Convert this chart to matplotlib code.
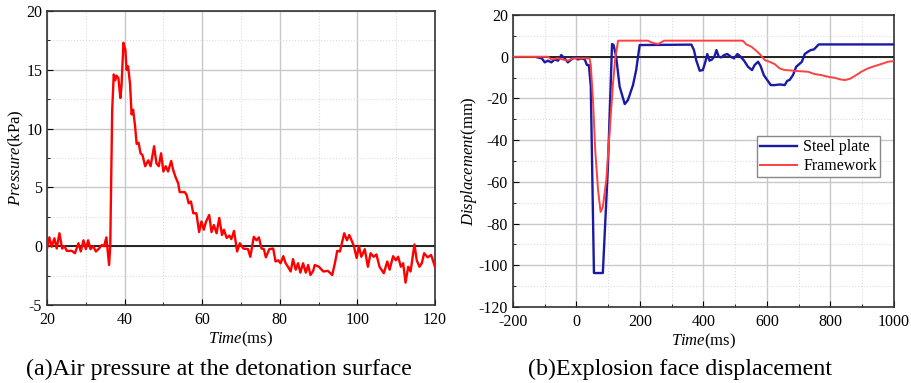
import numpy as np
import matplotlib
matplotlib.use("Agg")
import matplotlib.pyplot as plt
from matplotlib.ticker import MultipleLocator

plt.rcParams['font.family'] = ['Liberation Serif', 'DejaVu Serif']
plt.rcParams['mathtext.fontset'] = 'custom'
plt.rcParams['mathtext.rm'] = 'Liberation Serif'
plt.rcParams['mathtext.it'] = 'Liberation Serif:italic'
plt.rcParams['axes.unicode_minus'] = False

# (a) air pressure at the detonation surface
p_time = [20, 20.6, 21.2, 21.9, 22.5, 23.2, 23.9, 24.5, 25.1, 26.4, 27.2, 28.1, 28.7,
          29.4, 30, 30.6, 31.2, 31.9, 32.6, 33.4, 34.1, 34.7, 35.3, 36.0, 36.3, 36.8,
          37.2, 37.6, 37.9, 38.4, 38.9, 39.2, 39.7, 40.2, 40.5, 40.9, 41.4, 41.8, 42.2,
          42.7, 43.1, 43.6, 44.1, 44.6, 45.3, 46.1, 46.7, 47.6, 48.2, 48.8, 49.4, 50.0,
          50.6, 51.2, 52.0, 52.5, 53.1, 53.8, 54.2, 55.5, 56.0, 56.5, 57.1, 57.7, 58.5,
          59.2, 59.8, 60.4, 61.0, 61.8, 62.4, 63.0, 63.7, 64.4, 65.1, 65.6, 66.3, 67.0,
          67.5, 68.2, 69.0, 69.7, 70.6, 71.8, 72.4, 73.3, 74.0, 74.6, 75.3, 75.9, 76.4,
          77.3, 78.3, 78.9, 79.6, 80.2, 80.9, 81.5, 82.1, 82.8, 83.4, 84.1, 84.7, 85.3,
          86.0, 86.7, 87.3, 87.9, 88.6, 89.0, 90.1, 91.2, 92.4, 93.5, 94.2, 94.8, 95.5,
          95.9, 96.6, 97.3, 97.9, 98.5, 99.1, 99.8, 100.4, 101.0, 101.9, 102.7, 103.4,
          104.2, 104.9, 105.7, 106.8, 107.7, 108.3, 109.2, 109.9, 110.5, 111.2, 111.8,
          112.4, 113.1, 113.7, 114.7, 115.3, 116.0, 116.6, 117.2, 118.1, 119.0, 120]
pressure = [-0.2, 0.75, -0.04, 0.67, -0.2, 1.1, -0.2, 0, -0.4, -0.4, -0.6, 0.25, -0.45,
            0.5, -0.25, 0.5, -0.25, 0, -0.45, -0.2, 0.1, 0, 0.75, -1.6, 0, 11.6,
            14.6, 14.1, 14.5, 14.3, 12.6, 13.6, 17.3, 16.7, 15.0, 15.3, 13.8, 11.2, 11.6,
            10.2, 8.7, 8.8, 7.9, 7.75, 6.8, 7.3, 6.8, 8.5, 7.05, 6.8, 7.9, 6.35,
            6.8, 6.35, 7.25, 6.5, 5.9, 5.35, 4.6, 4.6, 4.35, 3.65, 3.8, 2.8, 2.8,
            1.2, 2.1, 1.4, 2.1, 2.65, 1.2, 1.8, 1.1, 2.4, 0.95, 1.4, 0.7, 0.9,
            0.6, 1.3, -0.45, 0.25, -0.2, -0.25, -0.9, 0.8, 0.5, 0.75, -0.2, -0.25, -0.95,
            -0.25, -0.2, -1.3, -1.2, -1.45, -0.85, -1.45, -1.75, -2.15, -1.1, -2.0, -1.45, -2.25,
            -1.45, -2.25, -1.6, -2.45, -2.1, -1.6, -1.75, -2.15, -2.1, -2.45, -1.45, -0.4, -0.45,
            0.1, 1.1, 0.5, 0.95, 0.5, 0, -1.0, 0, -0.9, -0.25, -1.75, -0.6,
            -0.9, -0.7, -1.75, -2.3, -1.3, -2.0, -0.85, -1.2, -0.9, -1.75, -1.45,
            -3.1, -1.75, -2.15, 0.15, -1.2, -1.75, -1.45, -0.6, -0.95, -0.75, -1.75]

# (b) explosion face displacement
steel_time = [-123, -109, -100, -90, -79, -69, -58, -48, -37, -27, -16, -6, 5, 15, 26,
              33, 39, 45, 55, 83, 99, 112, 117, 125, 136, 152, 162, 178, 188, 199,
              362, 370, 377, 388, 398, 406, 412, 419, 427, 435, 441, 448, 456, 465,
              475, 486, 496, 507, 517, 528, 540, 553, 561, 572, 580, 590, 601, 612,
              624, 640, 656, 664, 671, 682, 692, 702, 710, 719, 729, 738, 748, 763, 1000]
steel_disp = [-0.3, -0.8, -2.7, -1.9, -2.7, -1.3, -1.9, 0.8, -0.8, -2.7, -1.3, -0.3, -1.3,
              -0.8, -1.3, -4, -4, -14, -103.7, -103.7, -52.8, 6.1, 5.6, 0, -14.4, -22.7,
              -20.8, -13.6, -6.4, 5.6, 5.8, 3.2, -1.6, -6.7, -6.4, -2.4, 1.3, -1.9, -1.3,
              0.3, 3.2, 0, -0.3, 0.8, 1.3, 0, -0.8, 1.3, 0, -1.9, -4.8, -6.4, -4, -2.4,
              -4.5, -8.8, -11.2, -13.6, -13.6, -13.3, -13.6, -11.5, -11.2, -8.8, -4.8,
              -3.5, -2.4, 1.3, 2.4, 3.2, 3.5, 5.9, 5.9]

frame_time = [-200, -90, -79, -58, -27, -12, 15, 41, 45, 52, 59, 68, 76, 83, 94, 104,
              115, 122, 131, 225, 236, 246, 257, 267, 276, 524, 535, 551, 566, 580,
              593, 608, 624, 640, 656, 677, 698, 729, 750, 771, 792, 813, 832, 845,
              861, 876, 897, 918, 939, 960, 981, 1000]
frame_disp = [0, 0, -1.3, -0.8, -1.9, -0.8, -0.8, -0.8, -4, -20.8, -44.8, -64, -74.4,
              -72, -59, -36.8, -12.8, -0.8, 7.7, 7.7, 6.9, 6.4, 6.1, 6.9, 7.7, 7.7,
              5.9, 4.8, 2.9, 0.8, -1.6, -2.4, -3.5, -5.6, -6.4, -6.6, -6.9, -7.2,
              -8.3, -8.8, -9.6, -10.1, -10.9, -11.2, -10.6, -9.3, -7.2, -5.6, -4.5,
              -3.5, -2.4, -2.1]


def style_axes(ax, xmaj, xmin, ymaj, ymin):
    ax.xaxis.set_major_locator(MultipleLocator(xmaj))
    ax.xaxis.set_minor_locator(MultipleLocator(xmin))
    ax.yaxis.set_major_locator(MultipleLocator(ymaj))
    ax.yaxis.set_minor_locator(MultipleLocator(ymin))
    ax.grid(which='major', color='#c8c8c8', linewidth=1.0)
    ax.grid(which='minor', color='#dcdcdc', linewidth=0.8, linestyle=':')
    ax.set_axisbelow(True)
    ax.tick_params(which='both', direction='in', labelsize=11.5, top=False, right=False)
    ax.tick_params(which='major', length=4)
    ax.tick_params(which='minor', length=2.5)
    ax.tick_params(axis='x', pad=5)
    ax.axhline(0, color='#222222', linewidth=1.4, zorder=1.5)
    for s in ax.spines.values():
        s.set_linewidth(1.2)
        s.set_color('#333333')


fig = plt.figure(figsize=(9.11, 3.83), dpi=100)

ax1 = fig.add_axes([0.0516, 0.2037, 0.4259, 0.7676])
style_axes(ax1, 20, 10, 5, 2.5)
ax1.plot(p_time, pressure, color='#ff0000', linewidth=1.7, zorder=3)
ax1.set_xlim(20, 120)
ax1.set_ylim(-5, 20)
ax1.set_xlabel(r'$\it{Time}$(ms)', fontsize=12, labelpad=1)
ax1.set_ylabel(r'$\it{Pressure}$(kPa)', fontsize=12, labelpad=0)

ax2 = fig.add_axes([0.5631, 0.1984, 0.4182, 0.7624])
style_axes(ax2, 200, 100, 20, 10)
ax2.plot(steel_time, steel_disp, color='#1a1aa6', linewidth=1.7, zorder=3, label='Steel plate')
ax2.plot(frame_time, frame_disp, color='#ff4040', linewidth=1.4, zorder=3, label='Framework')
ax2.set_xlim(-200, 1000)
ax2.set_ylim(-120, 20)
ax2.set_xlabel(r'$\it{Time}$(ms)', fontsize=12, labelpad=1)
ax2.set_ylabel(r'$\it{Displacement}$(mm)', fontsize=12, labelpad=0)
leg = ax2.legend(loc='upper left', bbox_to_anchor=(0.64, 0.586), fontsize=11.5,
                 fancybox=False, edgecolor='#888888', framealpha=1,
                 handlelength=2.3, borderpad=0.2, labelspacing=0.2, handletextpad=0.4,
                 borderaxespad=0)

fig.text(0.240, 0.02, '(a)Air pressure at the detonation surface', fontsize=17.3, ha='center')
fig.text(0.746, 0.02, '(b)Explosion face displacement', fontsize=17.3, ha='center')

fig.savefig('out.png', dpi=100)
